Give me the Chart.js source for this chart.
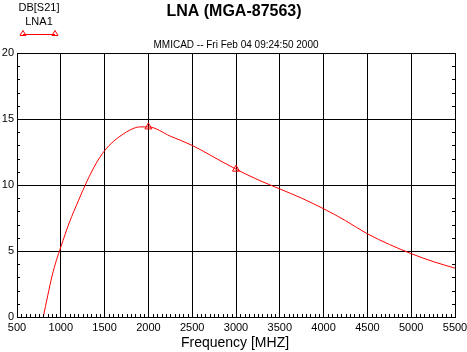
<!DOCTYPE html>
<html>
<head>
<meta charset="utf-8">
<script src="https://cdn.jsdelivr.net/npm/chart.js@4"></script>
<style>
  html, body { margin: 0; padding: 0; background: #fff; }
  #wrap { width: 467px; height: 352px; position: relative; }
</style>
</head>
<body>
<div id="wrap"><canvas id="chart"></canvas></div>
<script>
// ============ Data ============
const freqMHz = [800, 850, 900, 950, 1000, 1100, 1200, 1300, 1400, 1500, 1600, 1700, 1800, 1900, 2000,
                 2250, 2500, 2750, 3000, 3250, 3500, 3750, 4000, 4250, 4500, 4750, 5000, 5250, 5500];
const s21dB = [0, 1.6, 3.1, 4.3, 5.3, 7.2, 8.8, 10.3, 11.6, 12.6, 13.3, 13.8, 14.2, 14.4, 14.4,
               13.7, 13.0, 12.1, 11.2, 10.4, 9.7, 9.0, 8.2, 7.3, 6.3, 5.5, 4.8, 4.2, 3.7];
const markerFreqs = [2000, 3000];

const chartTitle = 'LNA (MGA-87563)';
const subTitle = 'MMICAD -- Fri Feb 04 09:24:50 2000';
const legendHead = 'DB[S21]';
const seriesName = 'LNA1';
const xTitle = 'Frequency [MHZ]';

const RED = '#ff0000';
const FONT = 'Arial, "Liberation Sans", sans-serif';

// ============ Decorations: texts, legend, minor ticks ============
const decor = {
    id: 'decor',
    afterDraw(chart) {
        const c = chart.ctx;
        const a = chart.chartArea;
        const xs = chart.scales.x, ys = chart.scales.y;
        c.save();
        c.strokeStyle = '#000';
        c.lineWidth = 1;
        c.beginPath();
        // x minor ticks (bottom, pointing up)
        for (let f = 550; f < 5500; f += 50) {
            if (f % 500 === 0) continue;
            const px = Math.round(xs.getPixelForValue(f)) + 0.5;
            c.moveTo(px, a.bottom);
            c.lineTo(px, a.bottom - 3);
        }
        // y minor ticks left and right
        for (let v = 1; v < 20; v++) {
            if (v % 5 === 0) continue;
            const py = Math.round(ys.getPixelForValue(v)) + 0.5;
            c.moveTo(a.left, py); c.lineTo(a.left + 3, py);
            c.moveTo(a.right, py); c.lineTo(a.right - 3, py);
        }
        c.stroke();

        c.fillStyle = '#000';
        c.textBaseline = 'middle';
        c.textAlign = 'center';
        c.font = 'bold 16px ' + FONT;
        c.fillText(chartTitle, 234, 12);
        c.font = '10px ' + FONT;
        c.fillText(subTitle, 236, 45);
        c.font = '14px ' + FONT;
        c.fillText(xTitle, 235, 343);

        c.font = '11px ' + FONT;
        c.fillText(legendHead, 39, 8);
        c.fillText(seriesName, 39, 22);

        // legend sample line with triangles
        c.strokeStyle = RED;
        c.beginPath();
        c.moveTo(23, 34.5); c.lineTo(55, 34.5);
        c.stroke();
        [23, 55].forEach(x => {
            c.beginPath();
            c.moveTo(x, 30.5); c.lineTo(x - 3, 35.5); c.lineTo(x + 3, 35.5); c.closePath();
            c.stroke();
        });
        c.restore();
    }
};

new Chart(document.getElementById('chart'), {
    type: 'line',
    data: {
        datasets: [{
            label: seriesName,
            data: freqMHz.map((f, i) => ({ x: f, y: s21dB[i] })),
            borderColor: RED,
            borderWidth: 1,
            backgroundColor: 'rgba(0,0,0,0)',
            pointStyle: 'triangle',
            pointBorderColor: RED,
            pointBackgroundColor: 'rgba(0,0,0,0)',
            pointBorderWidth: 1,
            pointRadius: ctx => markerFreqs.includes(freqMHz[ctx.dataIndex]) ? 4 : 0,
            cubicInterpolationMode: 'monotone'
        }]
    },
    options: {
        responsive: true,
        maintainAspectRatio: false,
        animation: false,
        events: [],
        layout: { padding: { top: 53, right: 12, left: 0, bottom: 0 } },
        plugins: { legend: { display: false }, title: { display: false }, tooltip: { enabled: false } },
        scales: {
            x: {
                type: 'linear',
                min: 500, max: 5500,
                afterFit: s => { s.height = 35; s.paddingLeft = 0; s.paddingRight = 0; },
                ticks: { stepSize: 500, color: '#000', padding: 4, maxRotation: 0,
                         callback: v => String(v),
                         font: { family: FONT, size: 11 } },
                grid: { color: '#000', lineWidth: 1, drawTicks: false },
                border: { color: '#000', width: 1 }
            },
            y: {
                min: 0, max: 20,
                afterFit: s => { s.width = 17; s.paddingTop = 0; s.paddingBottom = 0; },
                ticks: { stepSize: 5, color: '#000', padding: 3,
                         callback: v => String(v),
                         font: { family: FONT, size: 11 } },
                grid: { color: '#000', lineWidth: 1, drawTicks: false },
                border: { color: '#000', width: 1 }
            }
        }
    },
    plugins: [decor]
});
</script>
</body>
</html>
